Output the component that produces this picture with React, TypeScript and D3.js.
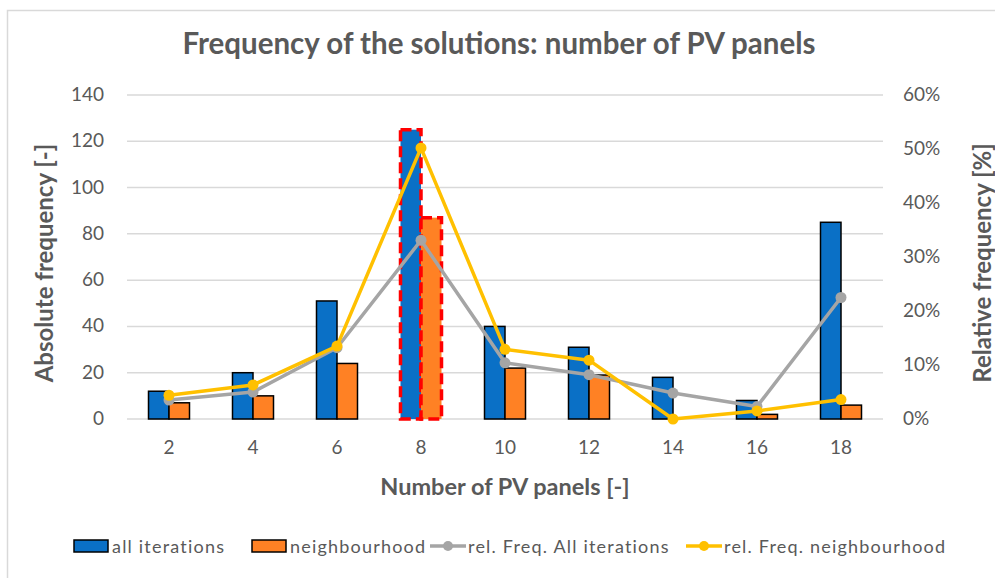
import React from "react";
import * as d3 from "d3";

const categories = ["2", "4", "6", "8", "10", "12", "14", "16", "18"];
const allIterations = [12, 20, 51, 125, 40, 31, 18, 8, 85];
const neighbourhood = [7, 10, 24, 87, 22, 19, 0, 2, 6];
const relAll = [0.035, 0.05, 0.132, 0.331, 0.104, 0.082, 0.048, 0.023, 0.225];
const relNeighbourhood = [0.044, 0.063, 0.135, 0.502, 0.129, 0.109, 0.0, 0.015, 0.036];
const leftTicks = [0, 20, 40, 60, 80, 100, 120, 140];
const rightTicks = [0, 0.1, 0.2, 0.3, 0.4, 0.5, 0.6];
const highlighted = "8";

const W = 995;
const H = 578;
const FONT = "Lato, 'Open Sans', sans-serif";
const TXT = "#595959";
const BLUE = "#0A70C6";
const ORANGE = "#FF8124";
const GRAY = "#A5A5A5";
const YELLOW = "#FFC000";

export default function App() {
  const x = d3.scaleBand<string>().domain(categories).range([127, 883]).padding(0);
  const bw = x.bandwidth();
  const barW = 20.5;
  const yL = d3.scaleLinear().domain([0, 140]).range([419, 95]);
  const yR = d3.scaleLinear().domain([0, 0.6]).range([419, 95]);
  const cx = (c: string) => (x(c) as number) + bw / 2;

  const lineAll = d3
    .line<number>()
    .x((_, i) => cx(categories[i]))
    .y((d) => yR(d));

  const legendItems = [
    { type: "bar", color: BLUE, label: "all iterations", x: 74 },
    { type: "bar", color: ORANGE, label: "neighbourhood", x: 252 },
    { type: "line", color: GRAY, label: "rel. Freq. All iterations", x: 430 },
    { type: "line", color: YELLOW, label: "rel. Freq. neighbourhood", x: 686 },
  ];
  const legY = 546;

  return (
    <svg
      width={W}
      height={H}
      style={{ position: "absolute", left: 0, top: 0, background: "#fff" }}
      fontFamily={FONT}
    >
      <rect x={0} y={0} width={W} height={H} fill="#fff" />
      <path d={`M7.5,${H} V10.5 H${W}`} fill="none" stroke="#D9D9D9" strokeWidth={1.5} />

      <text x={499} y={54} textAnchor="middle" fontSize={29.5} fontWeight={700} fill={TXT}>
        Frequency of the solutions: number of PV panels
      </text>

      {leftTicks.map((t) => (
        <g key={"g" + t}>
          <line x1={127} x2={883} y1={yL(t)} y2={yL(t)} stroke="#D9D9D9" strokeWidth={1.5} />
          <text x={104} y={yL(t) + 6} textAnchor="end" fontSize={19} fill={TXT}>
            {t}
          </text>
        </g>
      ))}
      {rightTicks.map((t) => (
        <text key={"r" + t} x={903} y={yR(t) + 6} textAnchor="start" fontSize={19} fill={TXT}>
          {d3.format(".0%")(t)}
        </text>
      ))}

      {categories.map((c, i) => {
        const left = (x(c) as number) + bw / 2 - barW;
        const hl = c === highlighted;
        return (
          <g key={"b" + c}>
            <rect
              x={left}
              y={yL(allIterations[i])}
              width={barW}
              height={yL(0) - yL(allIterations[i])}
              fill={BLUE}
              stroke={hl ? "#FF0000" : "#000"}
              strokeWidth={hl ? 3.5 : 1.5}
              strokeDasharray={hl ? "11 5" : undefined}
            />
            <rect
              x={left + barW}
              y={yL(neighbourhood[i])}
              width={barW}
              height={yL(0) - yL(neighbourhood[i])}
              fill={ORANGE}
              stroke={hl ? "#FF0000" : "#000"}
              strokeWidth={hl ? 3.5 : 1.5}
              strokeDasharray={hl ? "11 5" : undefined}
            />
            <text x={cx(c)} y={454} textAnchor="middle" fontSize={19} fill={TXT}>
              {c}
            </text>
          </g>
        );
      })}

      <path d={lineAll(relAll) || ""} fill="none" stroke={GRAY} strokeWidth={3.5} strokeLinejoin="round" />
      {relAll.map((v, i) => (
        <circle key={"ga" + i} cx={cx(categories[i])} cy={yR(v)} r={5.5} fill={GRAY} />
      ))}
      <path d={lineAll(relNeighbourhood) || ""} fill="none" stroke={YELLOW} strokeWidth={3.5} strokeLinejoin="round" />
      {relNeighbourhood.map((v, i) => (
        <circle key={"gy" + i} cx={cx(categories[i])} cy={yR(v)} r={5.5} fill={YELLOW} />
      ))}

      <text x={505} y={495} textAnchor="middle" fontSize={23.5} fontWeight={700} fill={TXT}>
        Number of PV panels [-]
      </text>
      <text
        transform={`translate(53,263) rotate(-90)`}
        textAnchor="middle"
        fontSize={24}
        fontWeight={700}
        fill={TXT}
      >
        Absolute frequency [-]
      </text>
      <text
        transform={`translate(991,263) rotate(-90)`}
        textAnchor="middle"
        fontSize={24}
        fontWeight={700}
        fill={TXT}
      >
        Relative frequency [%]
      </text>

      {legendItems.map((it) => (
        <g key={it.label}>
          {it.type === "bar" ? (
            <rect x={it.x} y={legY - 6} width={34} height={12} fill={it.color} stroke="#000" strokeWidth={1.5} />
          ) : (
            <g>
              <line x1={it.x} x2={it.x + 36} y1={legY} y2={legY} stroke={it.color} strokeWidth={3.5} />
              <circle cx={it.x + 18} cy={legY} r={5} fill={it.color} />
            </g>
          )}
          <text x={it.x + 38} y={legY + 6.5} fontSize={18} fill={TXT} letterSpacing={1.2}>
            {it.label}
          </text>
        </g>
      ))}
    </svg>
  );
}
